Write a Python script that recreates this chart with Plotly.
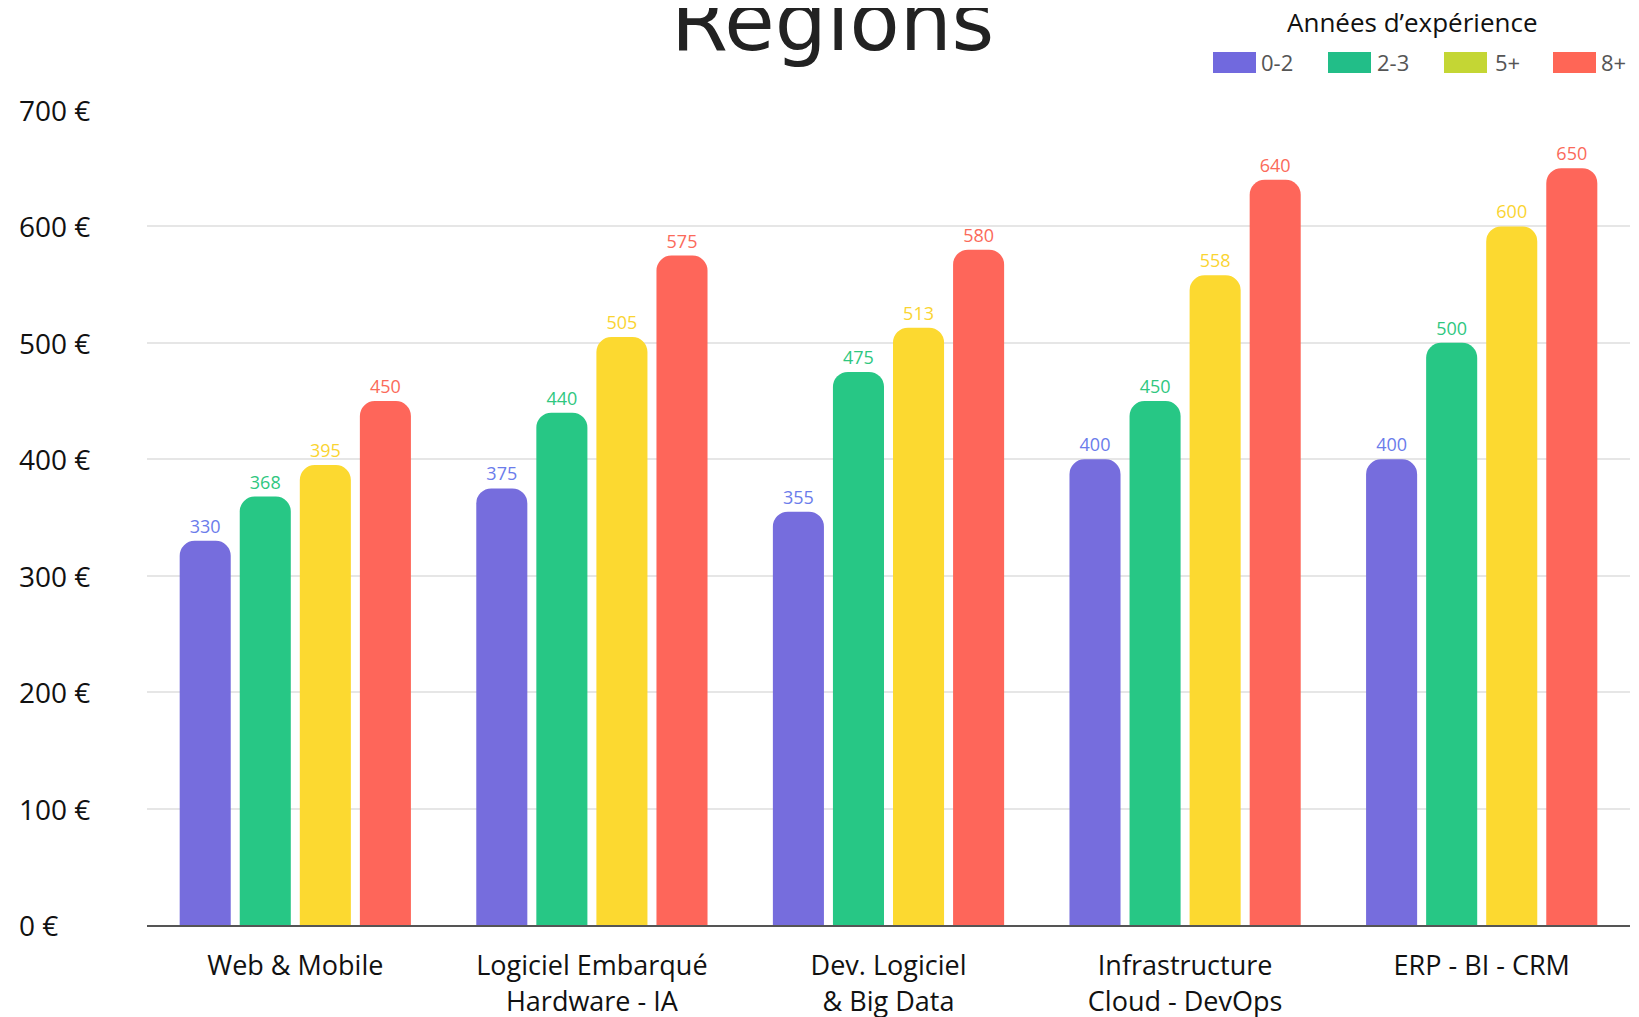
import plotly.graph_objects as go

# Data
categories = ["Web & Mobile", "Logiciel Embarqué<br>Hardware - IA", "Dev. Logiciel<br>& Big Data",
              "Infrastructure<br>Cloud - DevOps", "ERP - BI - CRM"]
series_names = ["0-2", "2-3", "5+", "8+"]
v_0_2 = [330, 375, 355, 400, 400]
v_2_3 = [368, 440, 475, 450, 500]
v_5 = [395, 505, 513, 558, 600]
v_8 = [450, 575, 580, 640, 650]
series_values = [v_0_2, v_2_3, v_5, v_8]
y_ticks = [0, 100, 200, 300, 400, 500, 600, 700]
y_tick_labels = [f"{t} €" for t in y_ticks]

bar_colors = ["#766DDD", "#27C785", "#FCD930", "#FE665A"]
label_colors = ["#6B7CEB", "#2FC77F", "#FAD431", "#FB6A5A"]
swatch_colors = ["#7169DE", "#22BE88", "#C4D634", "#FF6656"]

FONT = "Open Sans"
OFF = 8  # page body margin
W, H = 1639 - OFF, 1017 - OFF
ML, MR, MT, MB = 139, 9, 102, 92
PW, PH = W - ML - MR, H - MT - MB


def px_x(px):
    # page pixel -> paper x
    return (px - OFF - ML) / PW


def px_y(py):
    # page pixel -> paper y
    return (H - MB - (py - OFF)) / PH


fig = go.Figure()
for name, vals, col, lcol in zip(series_names, series_values, bar_colors, label_colors):
    fig.add_trace(go.Bar(
        x=categories, y=vals, name=name,
        marker=dict(color=col, cornerradius=15, line_width=0),
        text=vals, textposition="outside", cliponaxis=False,
        outsidetextfont=dict(color=lcol, size=18, family=FONT),
        showlegend=False,
    ))

annotations = []
# y tick labels, left aligned
for t, lab in zip(y_ticks, y_tick_labels):
    annotations.append(dict(x=0, xref="paper", xshift=-(ML - 9), xanchor="left",
                            y=t, yref="y", yanchor="middle", text=lab, showarrow=False,
                            font=dict(size=28, color="#111", family=FONT)))

# legend title
annotations.append(dict(x=px_x(1412), xref="paper", y=px_y(22), yref="paper",
                        xanchor="center", yanchor="middle", text="Années d’expérience",
                        showarrow=False, font=dict(size=26, color="#111", family=FONT)))

# custom legend
swatch_x = [1213, 1328, 1444, 1553]
text_x = [1259, 1375, 1493, 1599]
shapes = []
for sx, tx, name, col in zip(swatch_x, text_x, series_names, swatch_colors):
    shapes.append(dict(type="rect", xref="paper", yref="paper",
                       x0=px_x(sx), x1=px_x(sx + 43), y0=px_y(73), y1=px_y(52),
                       fillcolor=col, line_width=0))
    annotations.append(dict(x=px_x(tx), xref="paper", y=px_y(62), yref="paper",
                            xanchor="left", yanchor="middle", text=name, showarrow=False,
                            font=dict(size=22, color="#555", family=FONT)))

fig.update_layout(
    width=W, height=H,
    margin=dict(l=ML, r=MR, t=MT, b=MB),
    paper_bgcolor="white", plot_bgcolor="white",
    barmode="group", bargap=0.19, bargroupgap=0.15,
    title=dict(text="Régions", x=0.5056, xref="container", xanchor="center",
               y=0.987, yanchor="middle",
               font=dict(family="DejaVu Sans", size=82, color="#222")),
    xaxis=dict(showgrid=False, showline=True, linecolor="#555", linewidth=2,
               tickfont=dict(size=27, color="#111", family=FONT),
               ticklabelstandoff=16, ticks="", automargin=False),
    yaxis=dict(range=[0, 700], tickvals=y_ticks, showticklabels=False,
               showgrid=True, gridcolor="#E6E6E6", gridwidth=1.5,
               zeroline=False, showline=False, automargin=False),
    annotations=annotations,
    shapes=shapes,
    showlegend=False,
)

fig.write_html("out.html")
